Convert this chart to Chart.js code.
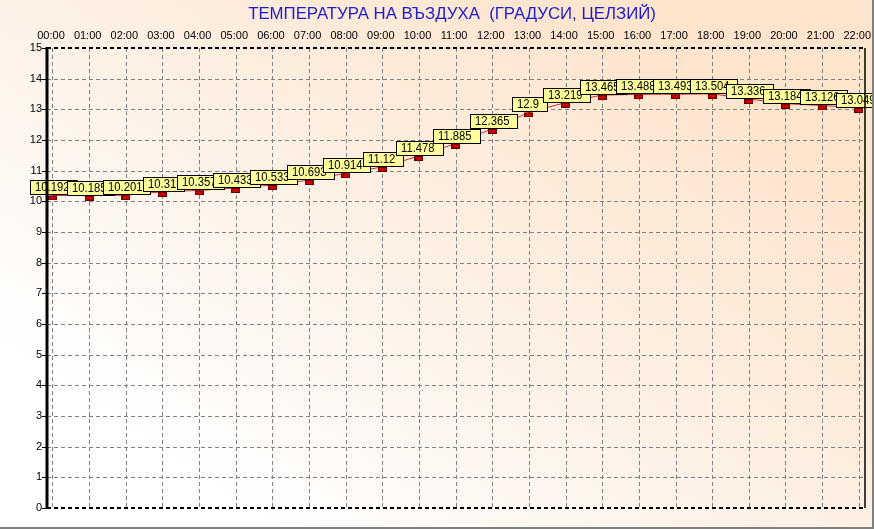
<!DOCTYPE html>
<html>
<head>
<meta charset="utf-8">
<script src="https://cdn.jsdelivr.net/npm/chart.js@4.4.1/dist/chart.umd.min.js"></script>
<style>
html,body{margin:0;padding:0;background:#fff;}
#wrap{width:874px;height:529px;position:relative;}
</style>
</head>
<body>
<div id="wrap"><canvas id="c" width="874" height="529"></canvas></div>
<script>
const titleText = "ТЕМПЕРАТУРА НА ВЪЗДУХА  (ГРАДУСИ, ЦЕЛЗИЙ)";
const hours = ["00:00","01:00","02:00","03:00","04:00","05:00","06:00","07:00","08:00","09:00","10:00","11:00","12:00","13:00","14:00","15:00","16:00","17:00","18:00","19:00","20:00","21:00","22:00"];
const temperature = [10.192,10.185,10.201,10.31,10.357,10.433,10.533,10.693,10.914,11.12,11.478,11.885,12.365,12.9,13.219,13.465,13.488,13.493,13.504,13.336,13.184,13.126,13.049];
const yTicks = [0,1,2,3,4,5,6,7,8,9,10,11,12,13,14,15];

const FONT = "'Liberation Sans', Arial, sans-serif";

// marker image: red rectangle drawn just below the value
const mk = document.createElement('canvas');
mk.width = 9; mk.height = 10;
(function(){
  const g = mk.getContext('2d');
  g.fillStyle = '#d00000';
  g.fillRect(0,5,9,5);
  g.strokeStyle = '#600000';
  g.lineWidth = 1;
  g.strokeRect(0.5,5.5,8,4);
})();

const bgPlugin = {
  id: 'bg',
  beforeDraw(chart){
    const ctx = chart.ctx, w = chart.width, h = chart.height;
    ctx.save();
    const g = ctx.createLinearGradient(620, 0, 260, h);
    g.addColorStop(0, '#fde4cc');
    g.addColorStop(0.5, '#fdf0e4');
    g.addColorStop(1, '#ffffff');
    ctx.fillStyle = g;
    ctx.fillRect(0,0,w,h);
    // title
    ctx.fillStyle = '#1c1ccc';
    ctx.font = '16.8px ' + FONT;
    ctx.textAlign = 'center';
    ctx.textBaseline = 'middle';
    ctx.fillText(titleText, 452, 14);
    ctx.restore();
  },
  beforeDatasetsDraw(chart){
    // dashed grid lines at the scales' tick positions
    const ctx = chart.ctx, a = chart.chartArea;
    const xs = chart.scales.x, ys = chart.scales.y;
    ctx.save();
    ctx.strokeStyle = '#808080';
    ctx.lineWidth = 1;
    ctx.setLineDash([4,3]);
    ctx.beginPath();
    xs.ticks.forEach(t => {
      const px = Math.round(xs.getPixelForValue(t.value)) + 0.5;
      ctx.moveTo(px, a.top); ctx.lineTo(px, a.bottom);
    });
    ys.ticks.forEach(t => {
      const py = Math.round(ys.getPixelForValue(t.value)) + 0.5;
      ctx.moveTo(a.left, py); ctx.lineTo(a.right, py);
    });
    ctx.stroke();
    ctx.restore();
  },
  afterDraw(chart){
    const ctx = chart.ctx, a = chart.chartArea;
    ctx.save();
    ctx.strokeStyle = '#000';
    ctx.lineWidth = 2;
    ctx.setLineDash([4,3]);
    ctx.beginPath();
    ctx.moveTo(a.left, a.top); ctx.lineTo(a.right, a.top);
    ctx.moveTo(a.left, a.bottom); ctx.lineTo(a.right, a.bottom);
    ctx.stroke();
    ctx.setLineDash([]);
    ctx.lineWidth = 1.5;
    ctx.beginPath();
    ctx.moveTo(a.right, a.top); ctx.lineTo(a.right, a.bottom);
    ctx.stroke();
    ctx.lineWidth = 3;
    ctx.beginPath();
    ctx.moveTo(a.left, a.top - 1); ctx.lineTo(a.left, a.bottom + 1);
    ctx.stroke();
    // y axis tick marks
    const ys = chart.scales.y;
    ctx.lineWidth = 1;
    ctx.beginPath();
    ys.ticks.forEach(t => {
      const py = Math.round(ys.getPixelForValue(t.value)) + 0.5;
      ctx.moveTo(a.left - 5, py); ctx.lineTo(a.left, py);
    });
    ctx.stroke();
    // outer frame right/bottom
    ctx.fillStyle = '#808080';
    ctx.fillRect(chart.width - 2, 0, 2, chart.height);
    ctx.fillRect(0, chart.height - 2, chart.width, 2);
    ctx.restore();
  }
};

const labelPlugin = {
  id: 'vlabels',
  afterDatasetsDraw(chart){
    const ctx = chart.ctx;
    const meta = chart.getDatasetMeta(0);
    const sx = 0.9;
    ctx.save();
    ctx.font = '12.5px ' + FONT;
    ctx.textBaseline = 'middle';
    ctx.textAlign = 'left';
    meta.data.forEach((pt, i) => {
      const txt = String(temperature[i]);
      const tw = ctx.measureText(txt).width * sx;
      const bw = Math.round(tw + 13);
      const bh = 14;
      const left = Math.round(pt.x + 1 - bw/2) + 0.5;
      const top = Math.round(pt.y - 15) + 0.5;
      ctx.fillStyle = '#ffff9c';
      ctx.fillRect(left, top, bw, bh);
      ctx.strokeStyle = '#000';
      ctx.lineWidth = 1;
      ctx.strokeRect(left, top, bw, bh);
      ctx.fillStyle = '#000';
      ctx.save();
      ctx.translate(left + 4.5, top + bh/2 + 0.5);
      ctx.scale(sx, 1);
      ctx.fillText(txt, 0, 0);
      ctx.restore();
    });
    ctx.restore();
  }
};

new Chart(document.getElementById('c'), {
  type: 'line',
  data: {
    datasets: [{
      data: temperature.map((v, i) => ({x: i, y: v})),
      borderColor: '#d03030',
      borderWidth: 1,
      pointStyle: mk,
      pointRadius: 4,
      pointHoverRadius: 4,
      tension: 0,
      fill: false
    }]
  },
  options: {
    responsive: false,
    animation: false,
    events: [],
    layout: { padding: { left: 0, right: 9, top: 0, bottom: 21 } },
    plugins: { legend: { display: false }, tooltip: { enabled: false }, title: { display: false } },
    scales: {
      x: {
        type: 'linear',
        position: 'top',
        min: -0.15,
        max: 22.17,
        afterBuildTicks(scale){ scale.ticks = hours.map((h, i) => ({value: i})); },
        afterFit(scale){ scale.height = 48; scale.paddingLeft = 0; scale.paddingRight = 0; },
        ticks: {
          callback: (v) => hours[v],
          font: { family: FONT, size: 11 },
          color: '#000',
          padding: 5,
          labelOffset: -1.5,
          maxRotation: 0,
          autoSkip: false
        },
        grid: { display: false, drawTicks: false },
        border: { display: false }
      },
      y: {
        min: 0,
        max: 15,
        afterBuildTicks(scale){ scale.ticks = yTicks.map(v => ({value: v})); },
        afterFit(scale){ scale.width = 47; scale.paddingTop = 0; scale.paddingBottom = 0; },
        ticks: {
          font: { family: FONT, size: 11 },
          color: '#000',
          padding: 1
        },
        grid: { display: true, drawOnChartArea: false, color: 'rgba(0,0,0,0)', tickLength: 4 },
        border: { display: false }
      }
    }
  },
  plugins: [bgPlugin, labelPlugin]
});
</script>
</body>
</html>
